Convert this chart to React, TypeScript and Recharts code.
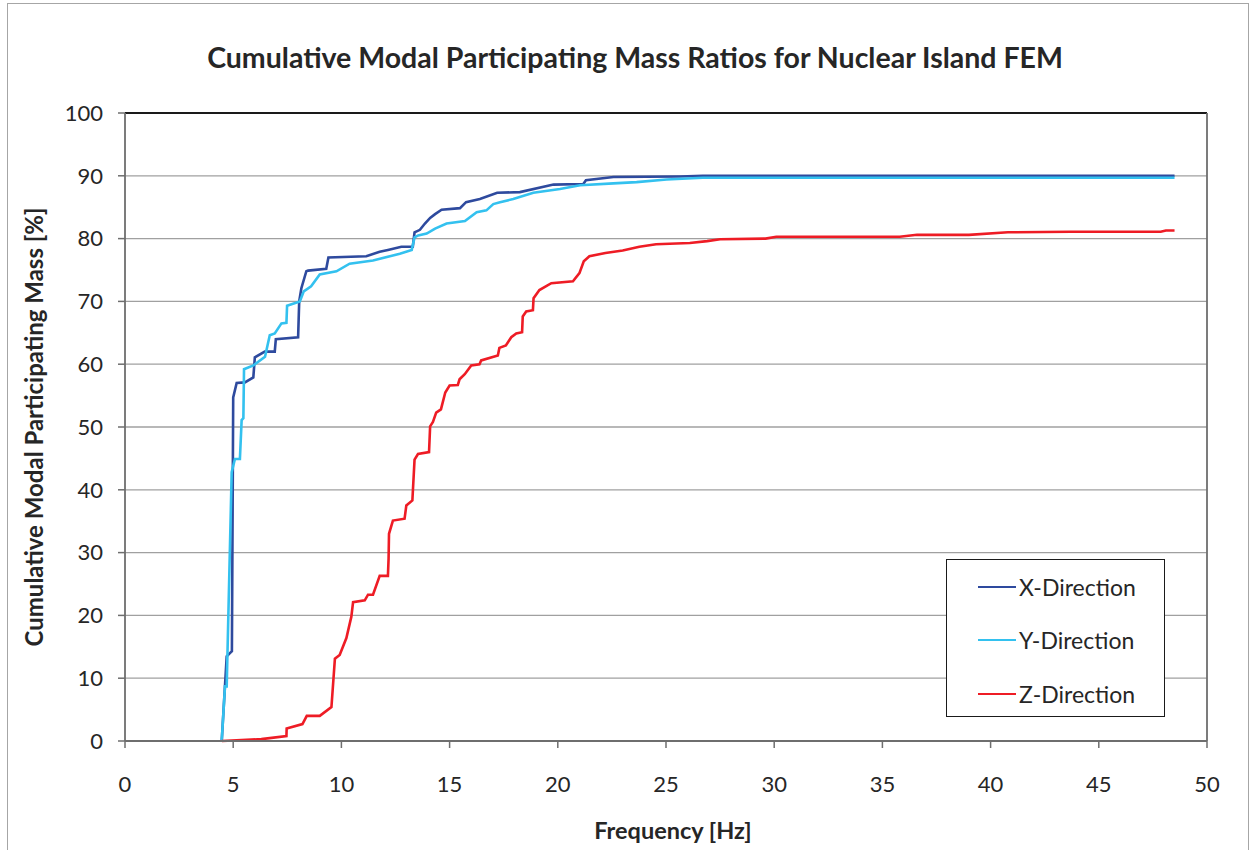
import React from 'react';
import { LineChart, Line, XAxis, YAxis, CartesianGrid, ReferenceLine, Legend } from 'recharts';

// ---- Data (frequency [Hz], cumulative mass [%]) ----
const xDirFreq = [4.47, 4.7, 4.85, 4.94, 5.0, 5.16, 5.54, 5.93, 6.0, 6.46, 6.92, 6.97, 8.0, 8.05, 8.15, 8.38, 8.46, 9.3, 9.4, 11.15, 11.77, 12.15, 12.77, 13.3, 13.38, 13.63, 13.86, 14.1, 14.33, 14.63, 15.48, 15.76, 16.4, 17.2, 18.25, 19.8, 21.18, 21.3, 22.57, 25.65, 26.7, 48.5];
const xDirMass = [0, 13.5, 14, 14.3, 54.7, 57, 57.1, 57.9, 61.1, 62, 62, 64, 64.3, 70, 72.1, 74.8, 74.9, 75.2, 77, 77.2, 77.9, 78.2, 78.7, 78.7, 81, 81.4, 82.4, 83.3, 83.9, 84.6, 84.85, 85.8, 86.3, 87.3, 87.4, 88.6, 88.7, 89.3, 89.8, 89.9, 90, 90];

const yDirFreq = [4.47, 4.62, 4.7, 4.93, 5.08, 5.31, 5.39, 5.47, 5.5, 5.93, 6.47, 6.69, 6.92, 7.23, 7.46, 7.49, 8.08, 8.26, 8.6, 9.0, 9.77, 10.38, 11.46, 12.7, 13.25, 13.38, 13.55, 13.94, 14.33, 14.86, 15.71, 16.25, 16.7, 17.02, 17.33, 17.94, 18.87, 20.1, 21.03, 22.57, 23.64, 25.03, 26.7, 48.5];
const yDirMass = [0, 8.7, 8.7, 42.8, 44.9, 44.9, 51.1, 51.4, 59.2, 59.8, 61.2, 64.6, 64.9, 66.5, 66.6, 69.3, 70, 71.6, 72.4, 74.3, 74.8, 76, 76.5, 77.6, 78.2, 80.2, 80.5, 80.8, 81.6, 82.4, 82.8, 84.2, 84.5, 85.5, 85.8, 86.3, 87.3, 87.9, 88.5, 88.8, 89, 89.4, 89.7, 89.7];

const zDirFreq = [4.48, 6.3, 7.46, 7.47, 8.2, 8.4, 9.0, 9.54, 9.7, 9.92, 10.23, 10.46, 10.54, 11.08, 11.23, 11.46, 11.77, 12.15, 12.18, 12.2, 12.38, 12.92, 13.0, 13.28, 13.38, 13.54, 14.05, 14.1, 14.23, 14.38, 14.6, 14.8, 15.0, 15.38, 15.46, 15.7, 16.0, 16.38, 16.46, 17.23, 17.3, 17.6, 17.85, 18.08, 18.35, 18.38, 18.54, 18.85, 18.88, 19.15, 19.7, 20.7, 21.0, 21.2, 21.46, 22.2, 23.0, 23.77, 24.54, 26.1, 26.9, 27.5, 29.6, 30.1, 35.8, 36.6, 39, 40.8, 43.7, 47.86, 48.1, 48.5];
const zDirMass = [0, 0.3, 0.8, 2, 2.7, 4, 4, 5.4, 13.1, 13.7, 16.4, 19.8, 22.1, 22.4, 23.3, 23.3, 26.3, 26.3, 29, 33, 35.1, 35.4, 37.5, 38.3, 44.8, 45.7, 46, 50.1, 50.8, 52.3, 52.8, 55.5, 56.6, 56.7, 57.6, 58.4, 59.8, 60, 60.6, 61.4, 62.6, 63, 64.3, 64.9, 65.1, 67.6, 68.4, 68.6, 70.5, 71.8, 72.9, 73.2, 74.5, 76.4, 77.2, 77.7, 78.1, 78.7, 79.1, 79.3, 79.6, 79.9, 80, 80.3, 80.3, 80.6, 80.6, 81.0, 81.1, 81.1, 81.3, 81.3];

const xTicks = [0, 5, 10, 15, 20, 25, 30, 35, 40, 45, 50];
const yTicks = [0, 10, 20, 30, 40, 50, 60, 70, 80, 90, 100];

const seriesNames = ['X-Direction', 'Y-Direction', 'Z-Direction'];
const seriesColors = ['#2E4A9E', '#33C1EF', '#EE1C25'];

const toPoints = (f: number[], m: number[]) => f.map((v, i) => ({ f: v, m: m[i] }));
const seriesData = [toPoints(xDirFreq, xDirMass), toPoints(yDirFreq, yDirMass), toPoints(zDirFreq, zDirMass)];

const FONT = 'Lato, "Noto Sans", sans-serif';
const TEXT = '#262626';

const LegendBox = (props: any) => {
  const payload = props.payload || [];
  return (
    <div style={{ width: 217, height: 156, border: '1.5px solid #1a1a1a', background: '#fff', boxSizing: 'content-box', fontFamily: FONT }}>
      {payload.map((p: any, i: number) => (
        <div key={i} style={{ display: 'flex', alignItems: 'center', height: 53.5 }}>
          <div style={{ marginLeft: 31, width: 38, height: 0, borderTop: `2.7px solid ${p.color}` }} />
          <span style={{ marginLeft: 3, fontSize: 23, color: TEXT }}>{p.value}</span>
        </div>
      ))}
    </div>
  );
};

export default function App() {
  return (
    <div style={{ position: 'absolute', left: 0, top: 0, width: 1251, height: 850, overflow: 'hidden', background: '#fff' }}>
      <div style={{ position: 'absolute', left: 7, top: 3, width: 1240, height: 860, border: '1px solid #a6a6a6' }} />
      <div style={{ position: 'absolute', left: 635, top: 57, transform: 'translate(-50%, -50%)', fontFamily: FONT, fontWeight: 700, fontSize: 28.5, color: TEXT, whiteSpace: 'nowrap' }}>
        Cumulative Modal Participating Mass Ratios for Nuclear Island FEM
      </div>
      <div style={{ position: 'absolute', left: 33, top: 427, transform: 'translate(-50%, -50%) rotate(-90deg)', fontFamily: FONT, fontWeight: 700, fontSize: 24, color: TEXT, whiteSpace: 'nowrap' }}>
        Cumulative Modal Participating Mass [%]
      </div>
      <div style={{ position: 'absolute', left: 673, top: 830, transform: 'translate(-50%, -50%)', fontFamily: FONT, fontWeight: 700, fontSize: 23.5, color: TEXT, whiteSpace: 'nowrap' }}>
        Frequency [Hz]
      </div>
      <div style={{ position: 'absolute', left: 0, top: 0 }}>
        <LineChart width={1251} height={850} margin={{ top: 113, right: 44, bottom: 49, left: 65 }}>
          <CartesianGrid vertical={false} stroke="#a0a0a0" strokeWidth={1.3} />
          <XAxis
            dataKey="f"
            type="number"
            domain={[0, 50]}
            ticks={xTicks}
            allowDataOverflow
            height={60}
            tickSize={7}
            tickMargin={28}
            axisLine={{ stroke: '#6e6e6e', strokeWidth: 1.8 }}
            tickLine={{ stroke: '#6e6e6e', strokeWidth: 1.5 }}
            tick={{ fontSize: 22, fill: TEXT, fontFamily: FONT }}
          />
          <YAxis
            type="number"
            domain={[0, 100]}
            ticks={yTicks}
            width={60}
            tickSize={7}
            tickMargin={15}
            axisLine={{ stroke: '#6e6e6e', strokeWidth: 1.8 }}
            tickLine={{ stroke: '#6e6e6e', strokeWidth: 1.5 }}
            tick={{ fontSize: 22, fill: TEXT, fontFamily: FONT }}
          />
          <ReferenceLine y={100} stroke="#1a1a1a" strokeWidth={1.8} />
          <ReferenceLine x={50} stroke="#6e6e6e" strokeWidth={1.8} />
          {seriesData.map((d, i) => (
            <Line
              key={seriesNames[i]}
              data={d}
              dataKey="m"
              name={seriesNames[i]}
              type="linear"
              stroke={seriesColors[i]}
              strokeWidth={2.6}
              dot={false}
              activeDot={false}
              isAnimationActive={false}
            />
          ))}
          <Legend
            layout="vertical"
            align="center"
            verticalAlign="middle"
            content={<LegendBox />}
            wrapperStyle={{ left: 946, top: 559, width: 220, height: 159 }}
          />
        </LineChart>
      </div>
    </div>
  );
}
